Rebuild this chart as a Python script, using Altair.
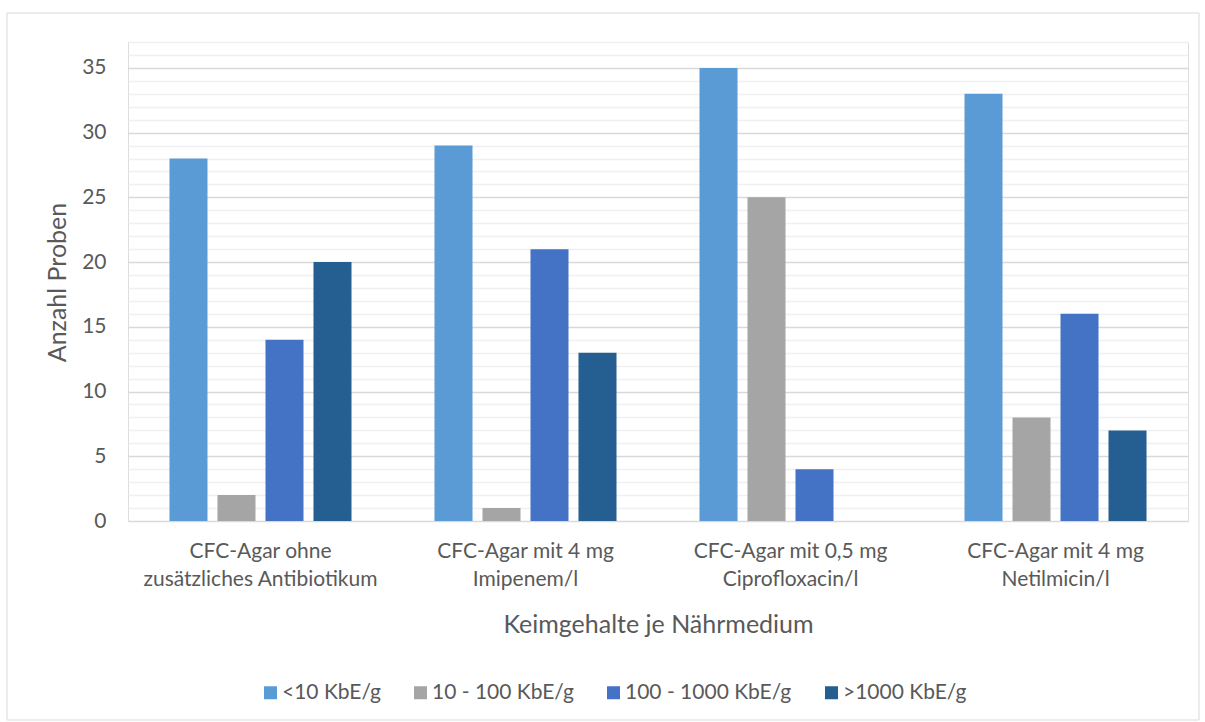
import altair as alt
import pandas as pd

groups = [
    "CFC-Agar ohne|zusätzliches Antibiotikum",
    "CFC-Agar mit 4 mg|Imipenem/l",
    "CFC-Agar mit 0,5 mg|Ciprofloxacin/l",
    "CFC-Agar mit 4 mg|Netilmicin/l",
]
series = ["<10 KbE/g", "10 - 100 KbE/g", "100 - 1000 KbE/g", ">1000 KbE/g"]
colors = ["#5B9BD5", "#A5A5A5", "#4472C4", "#255E91"]
values = {
    "<10 KbE/g": [28, 29, 35, 33],
    "10 - 100 KbE/g": [2, 1, 25, 8],
    "100 - 1000 KbE/g": [14, 21, 4, 16],
    ">1000 KbE/g": [20, 13, 0, 7],
}

rows = []
for s in series:
    for g, v in zip(groups, values[s]):
        rows.append({"Gruppe": g, "Serie": s, "Wert": v})
df = pd.DataFrame(rows)

FONT = "Lato"
TXT = "#595959"

bars = alt.Chart(df).mark_bar().encode(
    x=alt.X("Gruppe:N", sort=groups,
            scale=alt.Scale(paddingInner=0.2755, paddingOuter=0.1377),
            axis=alt.Axis(title="Keimgehalte je Nährmedium", labelAngle=0,
                          labelExpr="split(datum.label, '|')", labelLimit=400,
                          labelLineHeight=28, labelPadding=19, ticks=False,
                          domain=False, labelFontSize=21, labelColor=TXT,
                          titleFontSize=25, titleColor=TXT, titleFontWeight="normal",
                          titleY=103, titleBaseline="middle", labelFont=FONT, titleFont=FONT)),
    xOffset=alt.XOffset("Serie:N", sort=series,
                        scale=alt.Scale(paddingInner=0.208, paddingOuter=0.104)),
    y=alt.Y("Wert:Q", scale=alt.Scale(domain=[0, 37], nice=False),
            axis=alt.Axis(title="Anzahl Proben", values=list(range(0, 38)),
                          labelExpr="datum.value % 5 === 0 ? datum.label : ''",
                          gridColor={"condition": {"test": "datum.value % 5 === 0", "value": "#D9D9D9"}, "value": "#F0F0F0"},
                          gridWidth=1.5,
                          ticks=False, domain=False, labelPadding=22,
                          labelFontSize=21, labelColor=TXT, titleFontSize=25,
                          titleColor=TXT, titleFontWeight="normal",
                          titleX=-71, titleY=240, titleBaseline="middle",
                          labelFont=FONT, titleFont=FONT)),
    color=alt.Color("Serie:N", sort=series,
                    scale=alt.Scale(domain=series, range=colors),
                    legend=alt.Legend(title=None, orient="none", direction="horizontal",
                                      legendX=132, legendY=640, symbolType="square",
                                      symbolSize=169, symbolStrokeWidth=0,
                                      labelFontSize=21, labelColor=TXT, labelFont=FONT,
                                      labelLimit=400,
                                      columnPadding=29, symbolOffset=0, labelOffset=1)),
)

frame = alt.Chart(pd.DataFrame({"a": [0]})).mark_rect(
    fill=None, stroke="#D9D9D9", strokeWidth=1
).encode(x=alt.value(-121), x2=alt.value(1071), y=alt.value(-29), y2=alt.value(678))

chart = alt.layer(frame, bars).properties(
    width=1060, height=479,
    autosize=alt.AutoSizeParams(type="none"),
    padding={"left": 128, "top": 42, "right": 17, "bottom": 201},
).configure_view(stroke=None).configure(background="white")

chart.save("out.html", embed_options={"renderer": "svg", "actions": False})
